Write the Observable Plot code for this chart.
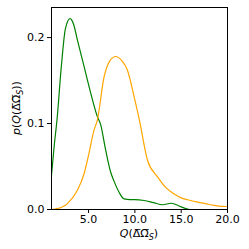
<!DOCTYPE html>
<html>
<head>
<meta charset="utf-8">
<script src="https://cdn.jsdelivr.net/npm/d3@7"></script>
<script src="https://cdn.jsdelivr.net/npm/@observablehq/plot@0.6"></script>
<style>
  html, body { margin: 0; padding: 0; background: white; }
</style>
</head>
<body>
<div id="chart"></div>
<script>
// Series 1 (green)
const greenX = [1, 1.3, 1.6, 2.05, 2.5, 3.0, 3.4, 3.78, 4.5, 5.22, 5.95, 6.3, 6.85, 7.4, 7.75, 8.3, 8.83, 9.5, 10, 11, 12, 13, 13.9, 14.5, 15, 15.5, 16, 17, 20];
const greenY = [0.04, 0.075, 0.105, 0.165, 0.21, 0.222, 0.215, 0.198, 0.167, 0.136, 0.108, 0.099, 0.069, 0.043, 0.033, 0.020, 0.0124, 0.0115, 0.0115, 0.0105, 0.008, 0.0055, 0.0073, 0.0055, 0.003, 0.001, 0, 0, 0];
// Series 2 (orange)
const orangeX = [1, 1.6, 2.7, 3.78, 4.5, 5.04, 5.58, 5.95, 6.67, 7.3, 7.93, 8.6, 9.2, 9.92, 10.64, 11.0, 11.37, 12.45, 13.3, 14.25, 15.0, 15.7, 16.8, 17.6, 18.6, 19.3, 20];
const orangeY = [0, 0.001, 0.0066, 0.022, 0.041, 0.065, 0.092, 0.104, 0.154, 0.173, 0.178, 0.173, 0.162, 0.131, 0.096, 0.075, 0.057, 0.038, 0.026, 0.018, 0.0135, 0.0113, 0.0085, 0.0068, 0.0047, 0.0037, 0.0035];
// Ticks
const xTicks = [5, 10, 15, 20];
const yTicks = [0, 0.1, 0.2];

const green = greenX.map((x, i) => ({x, y: greenY[i]}));
const orange = orangeX.map((x, i) => ({x, y: orangeY[i]}));

const svg = Plot.plot({
  width: 249,
  height: 249,
  marginLeft: 51,
  marginRight: 22,
  marginTop: 7,
  marginBottom: 40,
  style: {fontFamily: "DejaVu Sans", fontSize: "11px", color: "black", background: "white"},
  x: {domain: [1, 20], ticks: xTicks, tickFormat: d3.format(".1f"), label: null, tickSize: 4, tickPadding: 2},
  y: {domain: [0, 0.235], ticks: yTicks, tickFormat: d3.format(".1f"), label: null, tickSize: 4, tickPadding: 3},
  marks: [
    Plot.line(green, {x: "x", y: "y", stroke: "green", strokeWidth: 1.2, curve: "monotone-x"}),
    Plot.line(orange, {x: "x", y: "y", stroke: "orange", strokeWidth: 1.2, curve: "monotone-x"}),
    Plot.frame({stroke: "black", strokeWidth: 1})
  ]
});
document.getElementById("chart").appendChild(svg);

const s = d3.select(svg);
function addLabel(sel) {
  sel.append("tspan").attr("font-style", "italic").text("Q");
  sel.append("tspan").text("(");
  sel.append("tspan").text("Δ\u0305Ω\u0305");
  sel.append("tspan").attr("font-style", "italic").attr("font-size", "8px").attr("baseline-shift", "-2.5").text("S");
  sel.append("tspan").attr("baseline-shift", "0").text(")");
}
const xl = s.append("text")
  .attr("x", 139).attr("y", 237)
  .attr("text-anchor", "middle")
  .attr("font-family", "DejaVu Sans").attr("font-size", "11px").attr("fill", "black");
addLabel(xl);

const yl = s.append("text")
  .attr("transform", "translate(20,108) rotate(-90)")
  .attr("text-anchor", "middle")
  .attr("font-family", "DejaVu Sans").attr("font-size", "11px").attr("fill", "black");
yl.append("tspan").attr("font-style", "italic").text("p");
yl.append("tspan").text("(");
addLabel(yl);
yl.append("tspan").text(")");
</script>
</body>
</html>
